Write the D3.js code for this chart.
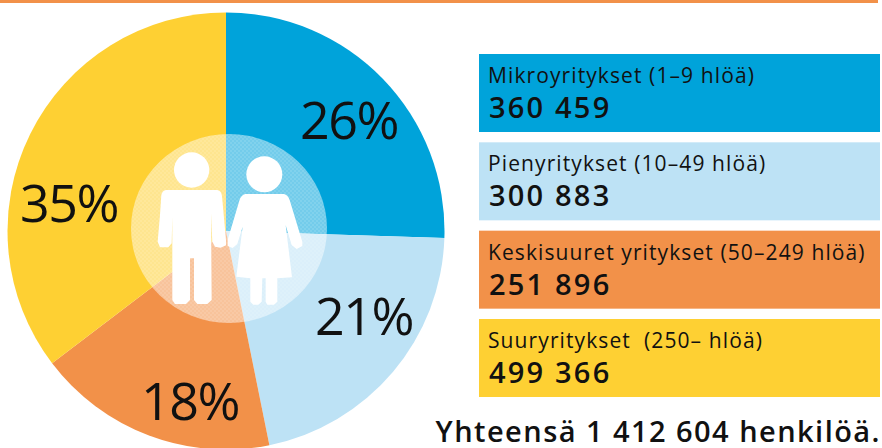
<!DOCTYPE html>
<html>
<head>
<meta charset="utf-8">
<script src="https://cdn.jsdelivr.net/npm/d3@7"></script>
<style>
    html, body { margin: 0; padding: 0; background: #fff; overflow: hidden; }
    svg { display: block; }
    text { font-family: "Open Sans", "DejaVu Sans", sans-serif; fill: #111; }
</style>
</head>
<body>
<div id="chart"></div>
<script>
// Data
const categories = ['Mikroyritykset (1–9 hlöä)', 'Pienyritykset (10–49 hlöä)', 'Keskisuuret yritykset (50–249 hlöä)', 'Suuryritykset  (250– hlöä)'];
const persons = [360459, 300883, 251896, 499366];
const personLabels = ['360 459', '300 883', '251 896', '499 366'];
const percentLabels = ['26%', '21%', '18%', '35%'];
const totalLabel = 'Yhteensä 1 412 604 henkilöä.';
const colors = ['#00a3da', '#bde2f5', '#f29149', '#fed033'];

const width = 882, height = 448;
const color = d3.scaleOrdinal(categories, colors);

const svg = d3.select('#chart').append('svg')
    .attr('width', width)
    .attr('height', height);

// Checker pattern for the see-through circle
const defs = svg.append('defs');
const pattern = defs.append('pattern')
    .attr('id', 'dither')
    .attr('width', 4).attr('height', 4)
    .attr('patternUnits', 'userSpaceOnUse');
pattern.append('rect').attr('width', 4).attr('height', 4).attr('fill', '#fff').attr('opacity', 0.45);
pattern.append('rect').attr('width', 2).attr('height', 2).attr('fill', '#fff').attr('opacity', 0.1);
pattern.append('rect').attr('x', 2).attr('y', 2).attr('width', 2).attr('height', 2).attr('fill', '#fff').attr('opacity', 0.1);

// Top rule
svg.append('rect')
    .attr('width', 878).attr('height', 3)
    .attr('fill', '#f29149');

// Pie
const radius = 218.5;
const pieGroup = svg.append('g').attr('transform', 'translate(226,231)');
const pie = d3.pie().sort(null);
const arc = d3.arc().innerRadius(0).outerRadius(radius);
const slices = pie(persons);

pieGroup.selectAll('path')
    .data(slices)
    .enter().append('path')
    .attr('d', arc)
    .attr('fill', (d, i) => color(categories[i]));

// Centre circle
svg.append('ellipse')
    .attr('cx', 229).attr('cy', 228.5)
    .attr('rx', 98).attr('ry', 94.5)
    .attr('fill', 'url(#dither)');

// Figures, traced in 3x crop units
const figures = svg.append('g')
    .attr('transform', 'translate(120,130) scale(0.3333)')
    .attr('fill', '#fff');
figures.append('circle').attr('cx', 215).attr('cy', 120).attr('r', 53);
figures.append('circle').attr('cx', 433).attr('cy', 133).attr('r', 54);
figures.append('path').attr('d', 'M138,180 L292,180 Q304,182 306,198 L318,330 L318,346 L302,353 L285,350 L277,335 L273,250 L275,510 L262,522 L232,522 L222,510 L222,385 L210,385 L210,510 L198,522 L165,522 L157,510 L157,260 L155,340 L145,352 L120,352 L113,335 L120,255 L124,195 Q127,182 138,180 Z');
figures.append('path').attr('d', 'M376,192 L492,192 Q504,195 509,210 L547,335 L547,348 L530,357 L515,345 L497,285 L516,442 L472,445 L472,515 L462,524 L442,524 L437,515 L437,445 L427,445 L425,515 L415,524 L400,524 L391,515 L391,445 L349,440 L368,290 L352,342 L338,354 L323,348 L323,330 L358,212 Q363,195 376,192 Z');

// Percent labels
const percentPos = [[349, 139], [364, 335], [190, 420], [69, 222]];
svg.append('g').selectAll('text')
    .data(percentLabels)
    .enter().append('text')
    .attr('x', (d, i) => percentPos[i][0])
    .attr('y', (d, i) => percentPos[i][1])
    .attr('text-anchor', 'middle')
    .attr('font-size', 52)
    .attr('letter-spacing', -1.5)
    .text(d => d);

// Legend boxes
const legendY = d3.scaleBand()
    .domain(categories)
    .range([54, 397])
    .paddingInner(0.117)
    .paddingOuter(0);

const legend = svg.append('g').selectAll('g')
    .data(categories)
    .enter().append('g')
    .attr('transform', d => `translate(479,${legendY(d)})`);

legend.append('rect')
    .attr('width', 401)
    .attr('height', legendY.bandwidth())
    .attr('fill', d => color(d));

legend.append('text')
    .attr('x', 9).attr('y', 29)
    .attr('font-size', 21)
    .attr('letter-spacing', 1.1)
    .style('white-space', 'pre')
    .text(d => d);

legend.append('text')
    .attr('x', 10).attr('y', 64)
    .attr('font-size', 29)
    .attr('font-weight', 600)
    .attr('letter-spacing', 2.2)
    .text((d, i) => personLabels[i]);

// Total
svg.append('text')
    .attr('x', 881).attr('y', 442)
    .attr('text-anchor', 'end')
    .attr('font-size', 29)
    .attr('font-weight', 600)
    .attr('letter-spacing', 1.45)
    .text(totalLabel);
</script>
</body>
</html>
